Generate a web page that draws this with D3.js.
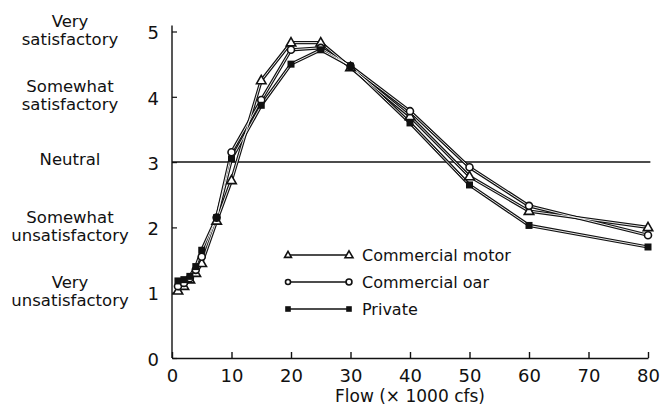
<!DOCTYPE html>
<html><head><meta charset="utf-8">
<script src="https://cdn.jsdelivr.net/npm/d3@7"></script>
<style>body{margin:0;background:#fff}svg{display:block}text{font-family:"DejaVu Sans",sans-serif;fill:#111}</style>
</head><body><svg id="c" width="664" height="416"></svg>
<script>
const flows = [1, 2, 3, 4, 5, 7.5, 10, 15, 20, 25, 30, 40, 50, 60, 80];
const commercialMotor = [1.03, 1.1, 1.2, 1.3, 1.45, 2.1, 2.72, 4.25, 4.83, 4.83, 4.45, 3.7, 2.78, 2.25, 2.0];
const commercialOar   = [1.1, 1.15, 1.22, 1.35, 1.55, 2.15, 3.15, 3.95, 4.72, 4.75, 4.47, 3.78, 2.92, 2.33, 1.88];
const privateBoat     = [1.18, 1.2, 1.25, 1.4, 1.65, 2.15, 3.05, 3.87, 4.5, 4.72, 4.47, 3.6, 2.65, 2.03, 1.7];
const seriesNames = ["Commercial motor", "Commercial oar", "Private"];
const xTicks = [0, 10, 20, 30, 40, 50, 60, 70, 80];
const yTicks = [0, 1, 2, 3, 4, 5];
const yCategories = [
  {v: 5, lines: ["Very", "satisfactory"]},
  {v: 4, lines: ["Somewhat", "satisfactory"]},
  {v: 3, lines: ["Neutral"]},
  {v: 2, lines: ["Somewhat", "unsatisfactory"]},
  {v: 1, lines: ["Very", "unsatisfactory"]}
];
const xTitle = "Flow (\u00d7 1000 cfs)";
const neutralValue = 3;

const svg = d3.select("#c");
const x = d3.scaleLinear().domain([0, 80]).range([172, 648]);
const y = d3.scaleLinear().domain([0, 5]).range([358, 31.5]);

// axes
const xAxis = d3.axisBottom(x).tickValues(xTicks).tickFormat(d3.format("d")).tickSizeInner(-6).tickSizeOuter(0).tickPadding(11);
const gx = svg.append("g").attr("transform", `translate(0,${y(0)})`).call(xAxis);
gx.select(".domain").attr("stroke", "#111").attr("stroke-width", 1.6);
gx.selectAll(".tick line").attr("stroke", "#111").attr("stroke-width", 1.4);
gx.selectAll(".tick text").style("font-size", "18px").style("font-family", "DejaVu Sans").attr("fill", "#111");

const yAxis = d3.axisLeft(y).tickValues(yTicks).tickFormat(d3.format("d")).tickSizeInner(-5).tickSizeOuter(0).tickPadding(13);
const gy = svg.append("g").attr("transform", `translate(${x(0)},0)`).call(yAxis);
gy.select(".domain").attr("stroke", "#111").attr("stroke-width", 1.4).attr("d", `M0,${y(0)}V${y(5.09)}`);
gy.selectAll(".tick line").attr("stroke", "#111").attr("stroke-width", 1.2);
gy.selectAll(".tick text").style("font-size", "18px").style("font-family", "DejaVu Sans").attr("fill", "#111").attr("dy", "0.4em");

// category labels
const cat = svg.append("g");
yCategories.forEach(c => {
  const t = cat.append("text").attr("text-anchor", "middle").style("font-size", "16.5px")
    .attr("x", 70).attr("y", y(c.v) - 3);
  if (c.lines.length === 1) {
    t.append("tspan").attr("x", 70).attr("dy", "0.35em").text(c.lines[0]);
  } else {
    t.append("tspan").attr("x", 70).attr("dy", "-0.1em").text(c.lines[0]);
    t.append("tspan").attr("x", 70).attr("dy", "1.1em").text(c.lines[1]);
  }
});

// neutral line
svg.append("line").attr("x1", x(0)).attr("x2", x(80.4)).attr("y1", y(neutralValue)).attr("y2", y(neutralValue))
  .attr("stroke", "#111").attr("stroke-width", 1.5);

// x title
svg.append("text").attr("x", x(40)).attr("y", 402).attr("text-anchor", "middle").style("font-size", "17px").text(xTitle);

const data = [commercialMotor, commercialOar, privateBoat];
const line = d3.line().x((d, i) => x(flows[i])).y(d => y(d));

data.forEach(s => {
  svg.append("path").attr("d", line(s)).attr("fill", "none").attr("stroke", "#111").attr("stroke-width", 3.2).attr("stroke-linejoin", "round");
});
data.forEach(s => {
  svg.append("path").attr("d", line(s)).attr("fill", "none").attr("stroke", "#fff").attr("stroke-width", 0.9).attr("stroke-linejoin", "round");
});

const triPath = (cx, cy, r) => `M${cx},${cy - r}L${cx + r * 0.95},${cy + r * 0.65}L${cx - r * 0.95},${cy + r * 0.65}Z`;
function marker(g, k, cx, cy, sz) {
  if (k === 0) g.append("path").attr("d", triPath(cx, cy, sz)).attr("fill", "#fff").attr("stroke", "#111").attr("stroke-width", 1.6);
  else if (k === 1) g.append("circle").attr("cx", cx).attr("cy", cy).attr("r", sz * 0.7).attr("fill", "#fff").attr("stroke", "#111").attr("stroke-width", 1.6);
  else g.append("rect").attr("x", cx - sz * 0.7).attr("y", cy - sz * 0.7).attr("width", sz * 1.4).attr("height", sz * 1.4).attr("fill", "#111");
}
const mg = svg.append("g");
data.forEach((s, k) => s.forEach((v, i) => marker(mg, k, x(flows[i]), y(v), 5)));

// legend
const lg = svg.append("g");
const legendY = [255, 282, 309];
seriesNames.forEach((n, k) => {
  const yy = legendY[k];
  lg.append("line").attr("x1", 288).attr("x2", 349).attr("y1", yy).attr("y2", yy).attr("stroke", "#111").attr("stroke-width", 1.6);
  marker(lg, k, 288, yy, k === 2 ? 4 : 3.6);
  marker(lg, k, 349, yy, k === 2 ? 4 : 4.2);
  lg.append("text").attr("x", 362).attr("y", yy).attr("dy", "0.36em").style("font-size", "16px").text(n);
});
</script></body></html>
